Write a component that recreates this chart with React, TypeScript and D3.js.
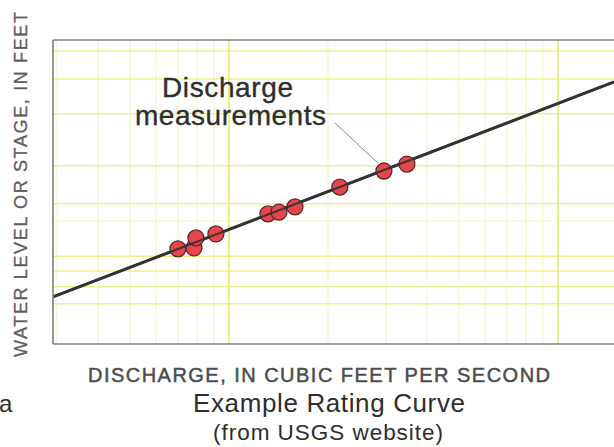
import React from "react";
import * as d3 from "d3";

// Stage–discharge rating: discharge (cfs) on a log axis, stage (ft) linear.
const measuredDischarge = [70.0, 78.3, 79.4, 91.3, 131.4, 141.9, 158.7, 217.3, 295.8, 347.5];
const measuredStage = [3.13, 3.16, 3.49, 3.62, 4.28, 4.34, 4.51, 5.16, 5.69, 5.92];

const ratingDischarge = [29.2, 1480];
const ratingStage = [1.55, 8.62];

const majorDischargeLines = [100, 1000];
const minorDischargeLines = [30, 40, 50, 60, 70, 80, 90, 200, 300, 400, 500, 600, 700, 800, 900];
const stageLines = [9.64, 8.72, 7.57, 5.86, 4.61, 2.89, 2.40, 1.88, 1.32];
const faintStageLines = [4.05];

const W = 614;
const H = 447;
const left = 53;
const top = 40;
const bottom = 344;
const right = 640;

export default function App() {
  const x = d3.scaleLog().domain([29.2, 1480]).range([53, 614]);
  const y = d3.scaleLinear().domain([0, 10]).range([bottom, top]);

  const line = d3
    .line<number>()
    .x((_, i) => x(ratingDischarge[i]))
    .y((d) => y(d));

  const pts = measuredDischarge.map((q, i) => ({ q, s: measuredStage[i] }));
  const target = pts[8];

  return (
    <svg
      width={W}
      height={H}
      style={{ position: "absolute", left: 0, top: 0, background: "#fff" }}
    >
      <defs>
        <clipPath id="plot">
          <rect x={left} y={top} width={right - left} height={bottom - top} />
        </clipPath>
      </defs>

      <g clipPath="url(#plot)">
        {minorDischargeLines.map((v) => (
          <line key={"vm" + v} x1={x(v)} x2={x(v)} y1={top} y2={bottom} stroke="#f5f7cf" strokeWidth={1.2} />
        ))}
        {stageLines.map((v) => (
          <line key={"h" + v} x1={left} x2={right} y1={y(v)} y2={y(v)} stroke="#ecf08c" strokeWidth={1.5} />
        ))}
        {faintStageLines.map((v) => (
          <line key={"hf" + v} x1={left} x2={right} y1={y(v)} y2={y(v)} stroke="#f5f7cc" strokeWidth={1.2} />
        ))}
        {majorDischargeLines.map((v) => (
          <line key={"vM" + v} x1={x(v)} x2={x(v)} y1={top} y2={bottom} stroke="#e6ec6a" strokeWidth={1.6} />
        ))}

        <path d={line(ratingStage) ?? ""} fill="none" stroke="#333" strokeWidth={3} />

        {pts.map((p, i) => (
          <circle key={i} cx={x(p.q)} cy={y(p.s)} r={8} fill="#e8454c" stroke="#5b2a2a" strokeWidth={1.3} />
        ))}
        <path d={line(ratingStage) ?? ""} fill="none" stroke="#333" strokeWidth={2.2} opacity={0.9} />
      </g>

      {/* frame */}
      <line x1={left} x2={left} y1={top} y2={bottom} stroke="#7d7d85" strokeWidth={1.6} />
      <line x1={left} x2={W} y1={top} y2={top} stroke="#7d7d85" strokeWidth={1.6} />
      <line x1={left} x2={W} y1={bottom} y2={bottom} stroke="#7d7d85" strokeWidth={1.6} />

      {/* annotation */}
      <g fontFamily="'Liberation Sans', Arial, sans-serif" fill="#2e2e2e" stroke="#2e2e2e" strokeWidth={0.35}>
        <text x={162} y={97} fontSize={28} textLength={131} lengthAdjust="spacing">Discharge</text>
        <text x={135} y={125} fontSize={28} textLength={191} lengthAdjust="spacing">measurements</text>
      </g>
      <line x1={335} y1={123} x2={x(target.q) - 6} y2={y(target.s) - 8} stroke="#8a8a8a" strokeWidth={1} />

      {/* axis titles */}
      <g fontFamily="'Liberation Sans', Arial, sans-serif" fill="#4d4d4d" stroke="#4d4d4d" strokeWidth={0.5}>
        <text x={88} y={382} fontSize={20} textLength={462} lengthAdjust="spacing">
          DISCHARGE, IN CUBIC FEET PER SECOND
        </text>
        <text
          transform="translate(27,357) rotate(-90)"
          x={0}
          y={0}
          fontSize={18}
          textLength={345}
          lengthAdjust="spacing"
          fill="#5e5e5e"
          stroke="#5e5e5e"
          strokeWidth={0.3}
        >
          WATER LEVEL OR STAGE,  IN FEET
        </text>
      </g>

      {/* caption */}
      <g fontFamily="'Liberation Sans', Arial, sans-serif" fill="#2e2e2e">
        <text x={193} y={412} fontSize={26} textLength={272} lengthAdjust="spacing">Example Rating Curve</text>
        <text x={213} y={440} fontSize={22.5} textLength={230} lengthAdjust="spacing">(from USGS website)</text>
        <text x={-1} y={412} fontSize={24}>a</text>
      </g>
    </svg>
  );
}
